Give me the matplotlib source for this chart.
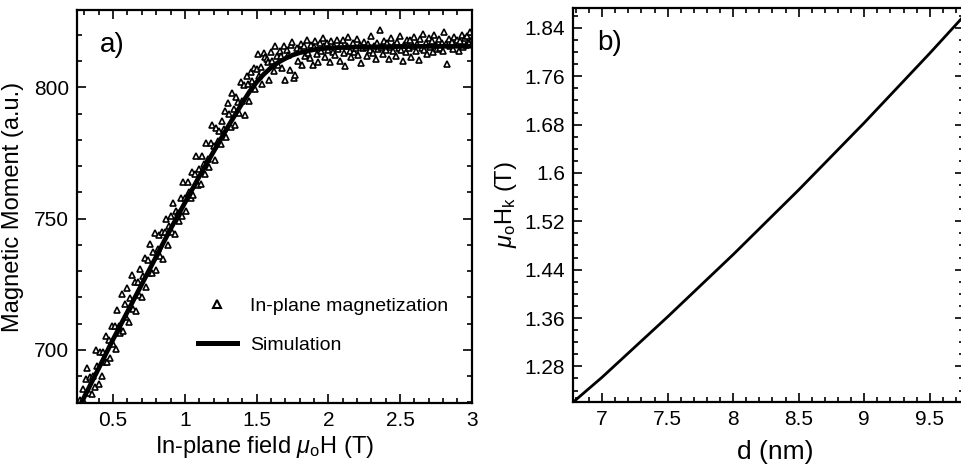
import numpy as np
import matplotlib
matplotlib.use('Agg')
import matplotlib.pyplot as plt
from matplotlib.lines import Line2D
from matplotlib.ticker import MultipleLocator, FixedLocator

plt.rcParams['font.family'] = ['Liberation Sans', 'DejaVu Sans']
plt.rcParams['mathtext.fontset'] = 'custom'
plt.rcParams['mathtext.rm'] = 'Liberation Sans'
plt.rcParams['mathtext.it'] = 'Liberation Sans:italic'

# ---- panel a) measured in-plane magnetization (read off the picture)
field_meas = [
    0.27, 0.28, 0.29, 0.30, 0.31, 0.32, 0.33, 0.34, 0.35, 0.36,
    0.37, 0.38, 0.39, 0.40, 0.41, 0.42, 0.43, 0.44, 0.45, 0.46,
    0.47, 0.48, 0.49, 0.50, 0.51, 0.52, 0.53, 0.54, 0.55, 0.56,
    0.57, 0.58, 0.59, 0.60, 0.61, 0.62, 0.63, 0.64, 0.65, 0.66,
    0.67, 0.68, 0.69, 0.70, 0.71, 0.72, 0.73, 0.74, 0.75, 0.76,
    0.77, 0.78, 0.79, 0.80, 0.81, 0.82, 0.83, 0.84, 0.85, 0.86,
    0.87, 0.88, 0.89, 0.90, 0.91, 0.92, 0.93, 0.94, 0.95, 0.96,
    0.97, 0.98, 0.99, 1.00, 1.01, 1.02, 1.03, 1.04, 1.05, 1.06,
    1.07, 1.08, 1.09, 1.10, 1.11, 1.12, 1.13, 1.14, 1.15, 1.16,
    1.17, 1.18, 1.19, 1.20, 1.21, 1.22, 1.23, 1.24, 1.25, 1.26,
    1.27, 1.28, 1.29, 1.30, 1.31, 1.32, 1.33, 1.34, 1.35, 1.36,
    1.37, 1.38, 1.39, 1.40, 1.41, 1.42, 1.43, 1.44, 1.45, 1.46,
    1.47, 1.48, 1.49, 1.50, 1.51, 1.52, 1.53, 1.54, 1.55, 1.56,
    1.57, 1.58, 1.59, 1.60, 1.61, 1.62, 1.63, 1.64, 1.65, 1.66,
    1.67, 1.68, 1.69, 1.70, 1.71, 1.72, 1.73, 1.74, 1.75, 1.76,
    1.77, 1.78, 1.79, 1.80, 1.81, 1.82, 1.83, 1.84, 1.85, 1.86,
    1.87, 1.88, 1.89, 1.90, 1.91, 1.92, 1.93, 1.94, 1.95, 1.96,
    1.97, 1.98, 1.99, 2.00, 2.01, 2.02, 2.03, 2.04, 2.05, 2.06,
    2.07, 2.08, 2.09, 2.10, 2.11, 2.12, 2.13, 2.14, 2.15, 2.16,
    2.17, 2.18, 2.19, 2.20, 2.21, 2.22, 2.23, 2.24, 2.25, 2.26,
    2.27, 2.28, 2.29, 2.30, 2.31, 2.32, 2.33, 2.34, 2.35, 2.36,
    2.37, 2.38, 2.39, 2.40, 2.41, 2.42, 2.43, 2.44, 2.45, 2.46,
    2.47, 2.48, 2.49, 2.50, 2.51, 2.52, 2.53, 2.54, 2.55, 2.56,
    2.57, 2.58, 2.59, 2.60, 2.61, 2.62, 2.63, 2.64, 2.65, 2.66,
    2.67, 2.68, 2.69, 2.70, 2.71, 2.72, 2.73, 2.74, 2.75, 2.76,
    2.77, 2.78, 2.79, 2.80, 2.81, 2.82, 2.83, 2.84, 2.85, 2.86,
    2.87, 2.88, 2.89, 2.90, 2.91, 2.92, 2.93, 2.94, 2.95, 2.96,
    2.97, 2.98, 2.99, 3.00,
]
moment_meas = [
    681.0, 679.5, 685.0, 680.0, 689.0, 693.0, 683.5, 689.5, 683.0, 690.0,
    685.8, 699.8, 693.9, 687.0, 699.0, 690.1, 699.2, 695.2, 705.3, 695.4,
    703.8, 696.8, 708.9, 702.0, 709.0, 700.1, 715.1, 709.2, 706.2, 721.3,
    707.3, 717.4, 712.4, 723.5, 710.5, 719.6, 728.6, 715.7, 725.7, 714.8,
    725.8, 720.9, 730.9, 720.0, 728.0, 735.1, 724.1, 734.2, 729.2, 740.3,
    729.3, 737.4, 744.4, 730.5, 738.5, 743.6, 735.6, 744.7, 734.7, 744.8,
    749.8, 739.9, 747.0, 751.0, 745.0, 756.0, 744.0, 753.0, 752.0, 749.0,
    758.0, 751.0, 764.0, 758.0, 753.0, 764.0, 760.0, 758.0, 767.9, 758.9,
    766.9, 773.9, 762.9, 769.0, 763.0, 774.0, 770.9, 766.9, 778.8, 772.8,
    769.7, 778.7, 785.6, 777.5, 772.5, 784.5, 779.4, 783.3, 778.3, 787.2,
    784.2, 791.1, 781.0, 794.0, 790.0, 784.9, 797.8, 791.7, 785.6, 796.5,
    794.4, 790.3, 802.2, 795.0, 800.8, 789.6, 804.4, 801.2, 795.0, 805.8,
    802.6, 807.4, 799.2, 807.0, 812.6, 804.2, 807.8, 801.4, 813.0, 811.5,
    811.0, 809.5, 803.0, 813.5, 809.9, 806.3, 815.7, 812.1, 808.5, 813.8,
    812.1, 807.4, 815.7, 803.0, 814.3, 812.5, 806.8, 816.0, 817.3, 803.5,
    804.7, 814.9, 810.1, 814.2, 816.4, 808.6, 815.7, 811.8, 818.0, 813.1,
    811.2, 816.3, 808.4, 815.5, 817.6, 812.7, 809.7, 816.8, 813.8, 818.9,
    815.8, 811.5, 816.9, 814.2, 809.8, 817.5, 813.6, 815.9, 812.3, 818.2,
    814.7, 810.2, 816.4, 817.9, 813.1, 808.3, 815.6, 819.2, 814.0, 811.7,
    816.8, 813.5, 815.1, 818.6, 812.4, 816.2, 809.4, 814.9, 817.3, 815.5,
    811.9, 816.6, 814.3, 819.5, 813.2, 815.8, 810.7, 817.1, 814.6, 822.0,
    815.3, 812.8, 817.6, 814.1, 816.9, 810.9, 815.4, 818.8, 813.7, 816.2,
    812.1, 817.4, 815.0, 819.7, 814.4, 809.9, 816.3, 813.6, 818.1, 815.2,
    817.9, 811.6, 815.7, 819.3, 813.9, 816.6, 810.3, 818.4, 815.1, 820.2,
    814.2, 816.8, 812.9, 818.9, 815.5, 817.7, 813.4, 819.9, 816.1, 814.5,
    818.3, 815.2, 817.0, 813.8, 821.0, 816.4, 809.0, 818.6, 815.9, 817.4,
    814.7, 819.1, 816.5, 818.2, 813.7, 817.8, 820.1, 815.4, 818.7, 816.2,
    819.4, 817.1, 821.0, 818.3,
]

# simulation curve
field_sim = [0.28, 0.40, 0.50, 0.60, 0.70, 0.80, 0.90, 1.00, 1.10, 1.20, 1.30,
             1.40, 1.45, 1.50, 1.55, 1.60, 1.65, 1.70, 1.75, 1.80, 1.90, 2.00,
             2.20, 2.50, 3.00]
moment_sim = [680.0, 693.0, 704.0, 714.5, 725.0, 735.5, 746.0, 756.0, 766.0, 775.5, 785.0,
              794.0, 798.3, 802.0, 805.0, 807.5, 809.5, 811.0, 812.3, 813.2, 814.4, 815.0,
              815.4, 815.6, 815.7]

# ---- panel b) anisotropy field vs thickness
thickness = [6.78, 7.0, 7.5, 8.0, 8.5, 9.0, 9.5, 9.77]
hk_field = [1.221, 1.262, 1.362, 1.465, 1.572, 1.683, 1.798, 1.862]
hk_ticks = [1.28, 1.36, 1.44, 1.52, 1.60, 1.68, 1.76, 1.84]
hk_labels = ['1.28', '1.36', '1.44', '1.52', '1.6', '1.68', '1.76', '1.84']
d_ticks = [7, 7.5, 8, 8.5, 9, 9.5]
d_labels = ['7', '7.5', '8', '8.5', '9', '9.5']
field_ticks = [0.5, 1, 1.5, 2, 2.5, 3]
field_labels = ['0.5', '1', '1.5', '2', '2.5', '3']


def style_axes(ax):
    for s in ax.spines.values():
        s.set_linewidth(1.6)
    ax.tick_params(which='both', direction='in', top=True, right=True, width=1.2)
    ax.tick_params(which='major', length=6.5, labelsize=15, pad=6)
    ax.tick_params(which='minor', length=3.5)


fig = plt.figure(figsize=(9.62, 4.66), dpi=100)

# panel a
ax1 = fig.add_axes([77.3 / 962, 63 / 466, 394.4 / 962, 393 / 466])
ax1.plot(field_meas, moment_meas, linestyle='none', marker='^', ms=5,
         mfc='white', mec='black', mew=1.2, zorder=2)
ax1.plot(field_sim, moment_sim, color='black', lw=3.4, zorder=3)
ax1.set_xlim(0.25, 3.0)
ax1.set_ylim(679.7, 829.5)
ax1.xaxis.set_major_locator(FixedLocator(field_ticks))
ax1.set_xticklabels(field_labels)
ax1.xaxis.set_minor_locator(MultipleLocator(0.1))
ax1.yaxis.set_major_locator(MultipleLocator(50))
ax1.yaxis.set_minor_locator(MultipleLocator(10))
style_axes(ax1)
ax1.set_xlabel(r'In-plane field $\mu_{\mathrm{o}}$H (T)', fontsize=17)
ax1.set_ylabel('Magnetic Moment (a.u.)', fontsize=17)
ax1.xaxis.set_label_coords(0.475, -0.08)
ax1.yaxis.set_label_coords(-0.135, 0.5)
ax1.text(0.058, 0.911, 'a)', transform=ax1.transAxes, fontsize=20,
         ha='left', va='center')

handles = [
    Line2D([], [], linestyle='none', marker='^', ms=6, mfc='white',
           mec='black', mew=1.5),
    Line2D([], [], color='black', lw=3.6),
]
ax1.legend(handles, ['In-plane magnetization', 'Simulation'], loc='upper left',
           bbox_to_anchor=(0.306, 0.27), frameon=False, fontsize=14,
           handlelength=2.0, handletextpad=0.7, labelspacing=1.1,
           borderpad=0, borderaxespad=0)

# panel b
ax2 = fig.add_axes([573.3 / 962, 64 / 466, 390.5 / 962, 394 / 466])
ax2.plot(thickness, hk_field, color='black', lw=2.0)
ax2.set_xlim(6.78, 9.76)
ax2.set_ylim(1.221, 1.873)
ax2.xaxis.set_major_locator(FixedLocator(d_ticks))
ax2.set_xticklabels(d_labels)
ax2.xaxis.set_minor_locator(MultipleLocator(0.1))
ax2.yaxis.set_major_locator(FixedLocator(hk_ticks))
ax2.set_yticklabels(hk_labels)
ax2.yaxis.set_minor_locator(MultipleLocator(0.02))
style_axes(ax2)
ax2.set_xlabel('d (nm)', fontsize=19)
ax2.set_ylabel(r'$\mu_{\mathrm{o}}\mathrm{H}_{\mathrm{k}}$ (T)', fontsize=17)
ax2.xaxis.set_label_coords(0.517, -0.097)
ax2.yaxis.set_label_coords(-0.14, 0.5)
ax2.text(0.061, 0.911, 'b)', transform=ax2.transAxes, fontsize=20,
         ha='left', va='center')

fig.savefig('out.png', dpi=100)
